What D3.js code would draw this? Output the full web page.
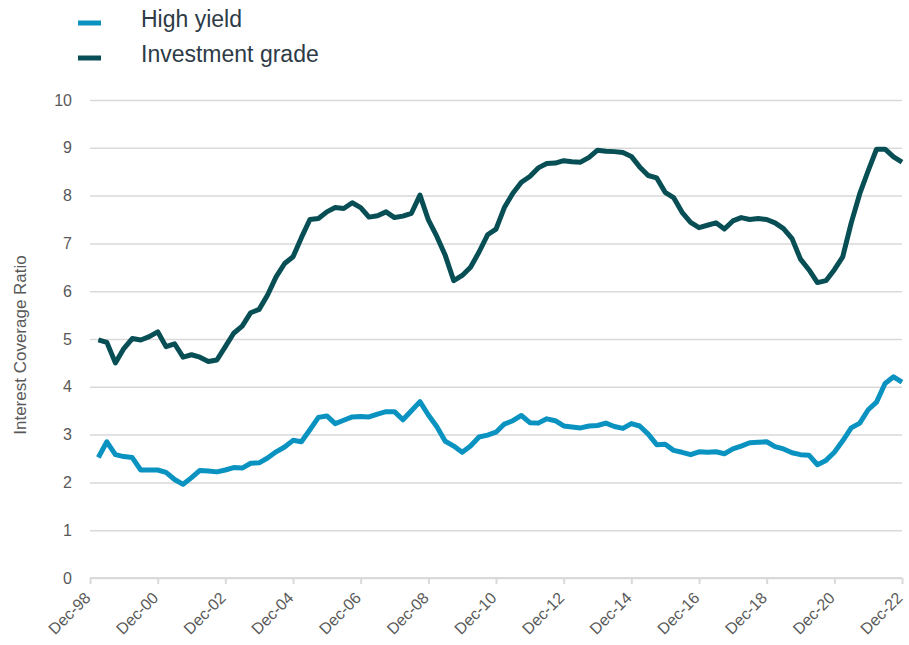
<!DOCTYPE html>
<html>
<head>
<meta charset="utf-8">
<script src="https://cdn.jsdelivr.net/npm/d3@7"></script>
<style>
  body { margin: 0; background: #fff; }
  text { font-family: Arial, "Liberation Sans", sans-serif; }
</style>
</head>
<body>
<div id="chart"></div>
<script>
// quarterly, Mar-99 .. Dec-22
var firstQuarter = [1999, 2];   // year, month index (March)
var tickLabels = ["Dec-98", "Dec-00", "Dec-02", "Dec-04", "Dec-06", "Dec-08", "Dec-10",
                  "Dec-12", "Dec-14", "Dec-16", "Dec-18", "Dec-20", "Dec-22"];
var yTicks = [0, 1, 2, 3, 4, 5, 6, 7, 8, 9, 10];

var investmentGrade = [
  4.98, 4.93, 4.50, 4.80, 5.01, 4.98, 5.05, 5.15, 4.84, 4.90, 4.62, 4.67,
  4.62, 4.53, 4.56, 4.84, 5.12, 5.27, 5.55, 5.62, 5.92, 6.30, 6.58, 6.72,
  7.12, 7.50, 7.52, 7.66, 7.75, 7.73, 7.85, 7.75, 7.55, 7.58, 7.66, 7.54,
  7.57, 7.63, 8.01, 7.49, 7.15, 6.75, 6.22, 6.33, 6.50, 6.82, 7.18, 7.30,
  7.75, 8.05, 8.28, 8.40, 8.58, 8.67, 8.68, 8.73, 8.71, 8.70, 8.80, 8.95,
  8.93, 8.92, 8.90, 8.82, 8.60, 8.42, 8.37, 8.07, 7.96, 7.65, 7.44, 7.33,
  7.38, 7.43, 7.30, 7.47, 7.54, 7.50, 7.52, 7.50, 7.43, 7.31, 7.10, 6.67,
  6.45, 6.18, 6.22, 6.45, 6.72, 7.43, 8.04, 8.52, 8.97, 8.97, 8.81, 8.70
];

var highYield = [
  2.52, 2.85, 2.58, 2.54, 2.52, 2.26, 2.26, 2.26, 2.21, 2.06, 1.96, 2.10,
  2.25, 2.24, 2.22, 2.26, 2.31, 2.30, 2.40, 2.41, 2.51, 2.64, 2.74, 2.88,
  2.85, 3.10, 3.36, 3.39, 3.23, 3.30, 3.37, 3.38, 3.37, 3.43, 3.48, 3.48,
  3.31, 3.50, 3.69, 3.41, 3.17, 2.86, 2.76, 2.63, 2.76, 2.95, 2.99, 3.05,
  3.22, 3.29, 3.40, 3.25, 3.24, 3.33, 3.29, 3.18, 3.16, 3.14, 3.18, 3.19,
  3.24, 3.17, 3.13, 3.23, 3.18, 3.01, 2.79, 2.80, 2.67, 2.63, 2.58, 2.64,
  2.63, 2.64, 2.60, 2.70, 2.76, 2.83, 2.84, 2.85, 2.75, 2.70, 2.62, 2.58,
  2.57, 2.37, 2.46, 2.63, 2.87, 3.14, 3.24, 3.52, 3.68, 4.07, 4.21, 4.10
];

var hyColor = "#0a93c1";
var igColor = "#074f55";
var gridColor = "#d9d9d9";
var labelColor = "#595959";

var width = 909, height = 645;
var plotLeft = 90, plotRight = 902, plotTop = 100, plotBottom = 578;

var dates = highYield.map(function(d, i) {
  return new Date(firstQuarter[0], firstQuarter[1] + 3 * i, 1);
});
var tickDates = tickLabels.map(function(t) {
  var yy = +t.slice(4);
  return new Date(yy < 50 ? 2000 + yy : 1900 + yy, 11, 1);
});

var svg = d3.select("#chart").append("svg")
  .attr("width", width)
  .attr("height", height);

var x = d3.scaleTime()
  .domain([tickDates[0], tickDates[tickDates.length - 1]])
  .range([plotLeft, plotRight]);

var y = d3.scaleLinear()
  .domain([0, 10])
  .range([plotBottom, plotTop]);

// gridlines + y labels
var yAxis = svg.append("g")
  .attr("transform", "translate(" + plotLeft + ",0)")
  .call(d3.axisLeft(y).tickValues(yTicks).tickSize(-(plotRight - plotLeft)).tickPadding(18));
yAxis.select(".domain").remove();
yAxis.selectAll("line")
  .attr("stroke", gridColor)
  .attr("stroke-width", 1.5);
yAxis.selectAll("text")
  .attr("fill", labelColor)
  .style("font-size", "16px");

// x axis
var xAxis = svg.append("g")
  .attr("transform", "translate(0," + plotBottom + ")")
  .call(d3.axisBottom(x).tickValues(tickDates).tickSize(6)
    .tickFormat(function(d, i) { return tickLabels[i]; }));
xAxis.select(".domain")
  .attr("stroke", gridColor)
  .attr("stroke-width", 2)
  .attr("d", "M" + plotLeft + ",0H" + plotRight);
xAxis.selectAll("line")
  .attr("stroke", gridColor)
  .attr("stroke-width", 2);
xAxis.selectAll("text")
  .attr("fill", labelColor)
  .style("font-size", "16px")
  .attr("text-anchor", "end")
  .attr("dy", null)
  .attr("y", 0)
  .attr("transform", "translate(1,21) rotate(-45)");

// y title
svg.append("text")
  .attr("transform", "translate(26,345) rotate(-90)")
  .attr("text-anchor", "middle")
  .attr("fill", labelColor)
  .style("font-size", "17px")
  .text("Interest Coverage Ratio");

var line = d3.line()
  .x(function(d) { return x(d.date); })
  .y(function(d) { return y(d.v); });

var series = [
  { name: "Investment grade", color: igColor, values: investmentGrade },
  { name: "High yield", color: hyColor, values: highYield }
];

series.forEach(function(s) {
  svg.append("path")
    .datum(s.values.map(function(v, i) { return { date: dates[i], v: v }; }))
    .attr("fill", "none")
    .attr("stroke", s.color)
    .attr("stroke-width", 5)
    .attr("stroke-linejoin", "round")
    .attr("d", line);
});

// legend
var legendItems = [
  { name: "High yield", color: hyColor, y: 23 },
  { name: "Investment grade", color: igColor, y: 58 }
];
var legend = svg.selectAll(".legend")
  .data(legendItems)
  .enter().append("g")
  .attr("class", "legend");
legend.append("line")
  .attr("x1", 78).attr("x2", 101)
  .attr("y1", function(d) { return d.y; })
  .attr("y2", function(d) { return d.y; })
  .attr("stroke", function(d) { return d.color; })
  .attr("stroke-width", 5);
legend.append("text")
  .attr("x", 141)
  .attr("y", function(d) { return d.y + 4; })
  .attr("fill", "#2e3b47")
  .style("font-size", "23px")
  .text(function(d) { return d.name; });
</script>
</body>
</html>
